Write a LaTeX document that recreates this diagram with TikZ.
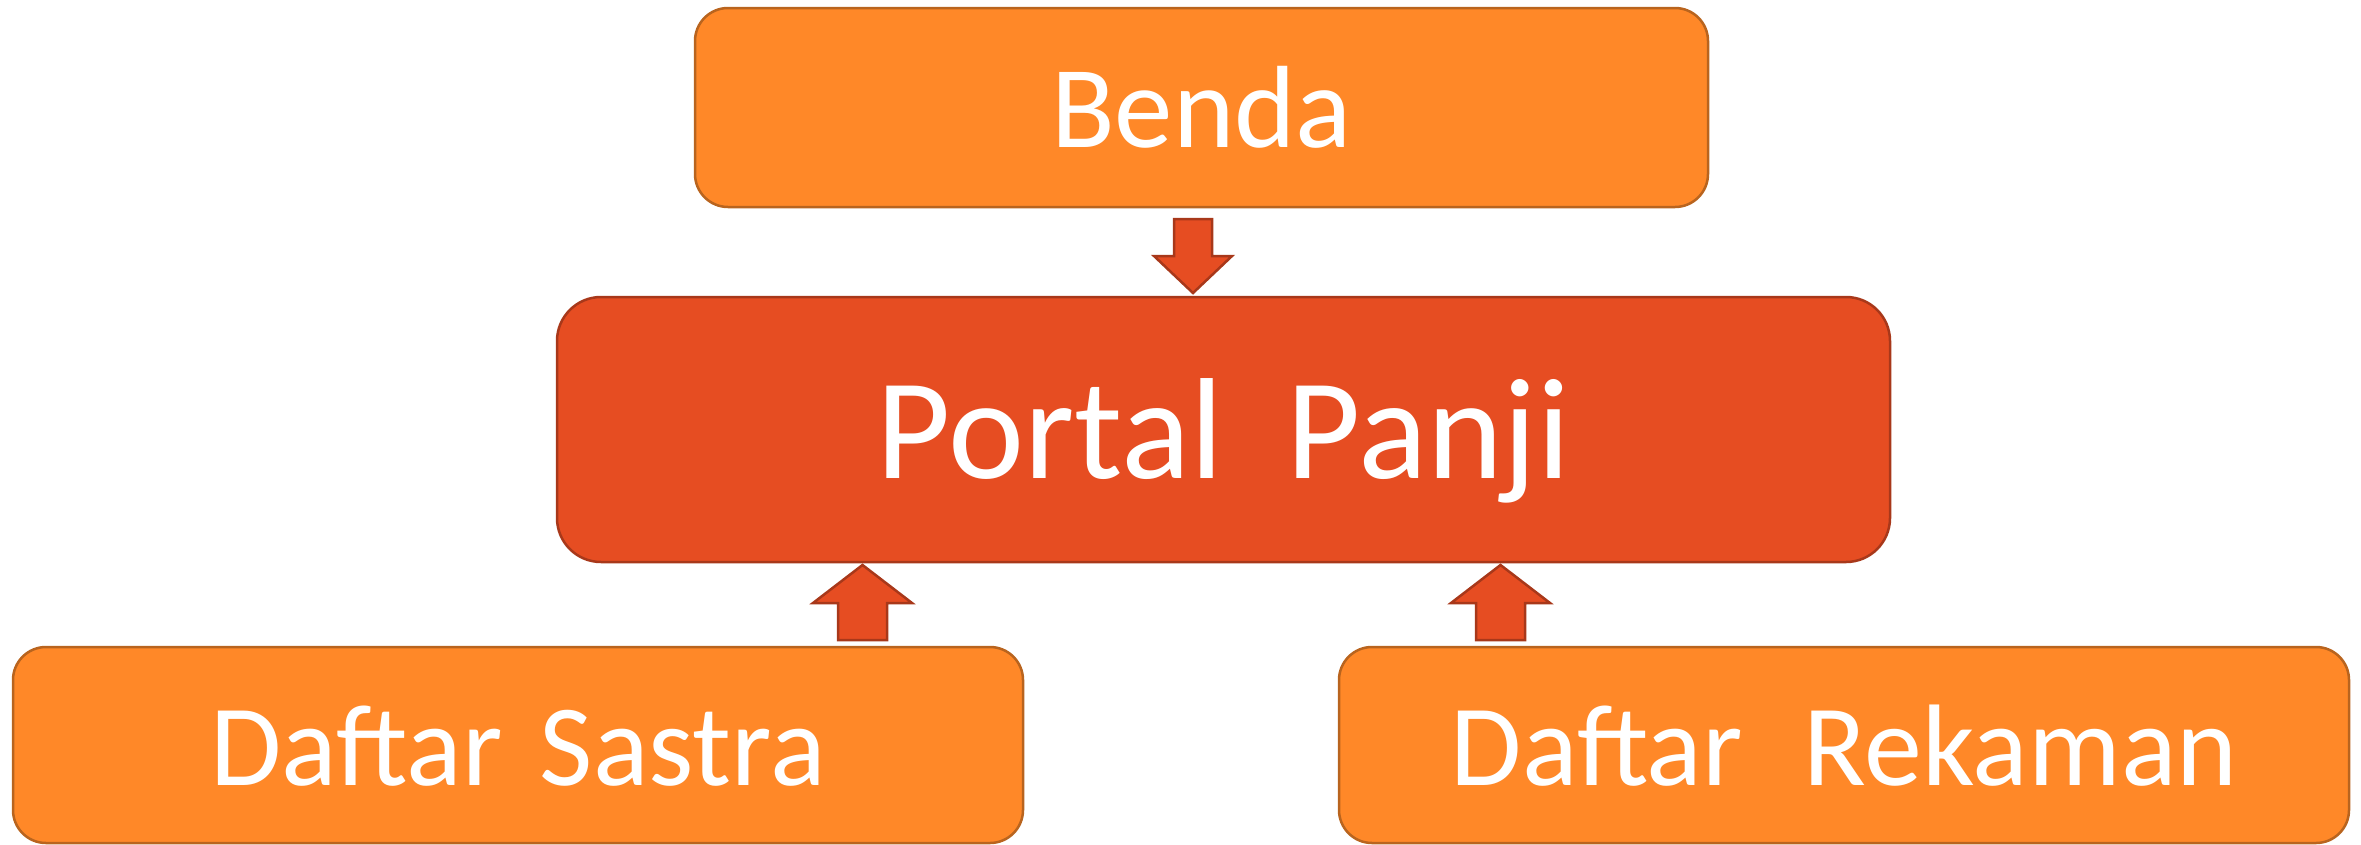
\documentclass[tikz,border=0pt]{standalone}
\usepackage{fontspec}
\setmainfont{Carlito}
\definecolor{orfill}{RGB}{255,136,40}
\definecolor{ordraw}{RGB}{185,100,30}
\definecolor{rdfill}{RGB}{230,77,34}
\definecolor{rddraw}{RGB}{168,56,26}
\tikzset{
  orbox/.style={rectangle, rounded corners=33pt, fill=orfill, draw=ordraw, line width=2.5pt,
    text=white, inner sep=0pt, text depth=0pt},
  rdbox/.style={rectangle, rounded corners=44pt, fill=rdfill, draw=rddraw, line width=2.5pt,
    text=white, inner sep=0pt, text depth=0pt},
  blockarrow/.style={fill=rdfill, draw=rddraw, line width=2.5pt, line join=miter}
}
\begin{document}
\begin{tikzpicture}[x=1pt,y=-1pt]
\useasboundingbox (0,0) rectangle (2361,844);
% boxes
\node[orbox, minimum width=1013pt, minimum height=199pt, text height=79pt,
  font=\fontsize{117}{120}\selectfont] (benda) at (1201.5,107.5) {Benda};
\node[rdbox, minimum width=1333pt, minimum height=265pt, text height=97pt,
  font=\fontsize{144}{150}\selectfont] (portal) at (1223.5,429.5) {Portal\hspace{31pt} Panji};
\node[orbox, minimum width=1010pt, minimum height=196pt, text height=80pt,
  font=\fontsize{116}{120}\selectfont] (sastra) at (518,745) {Daftar\hspace{11pt} Sastra};
\node[orbox, minimum width=1010pt, minimum height=196pt, text height=80pt,
  font=\fontsize{116}{120}\selectfont] (rekaman) at (1844,745) {Daftar\hspace{34pt} Rekaman};
% block arrows
\draw[blockarrow] (1174,219) -- (1212,219) -- (1212,256) -- (1232,256) -- (1193,293)
  -- (1154,256) -- (1174,256) -- cycle;
\draw[blockarrow] (838,640) -- (887,640) -- (887,603) -- (912,603) -- (862.5,565)
  -- (813,603) -- (838,603) -- cycle;
\draw[blockarrow] (1476,640) -- (1525,640) -- (1525,603) -- (1550,603) -- (1500.5,565)
  -- (1451,603) -- (1476,603) -- cycle;
\end{tikzpicture}
\end{document}
